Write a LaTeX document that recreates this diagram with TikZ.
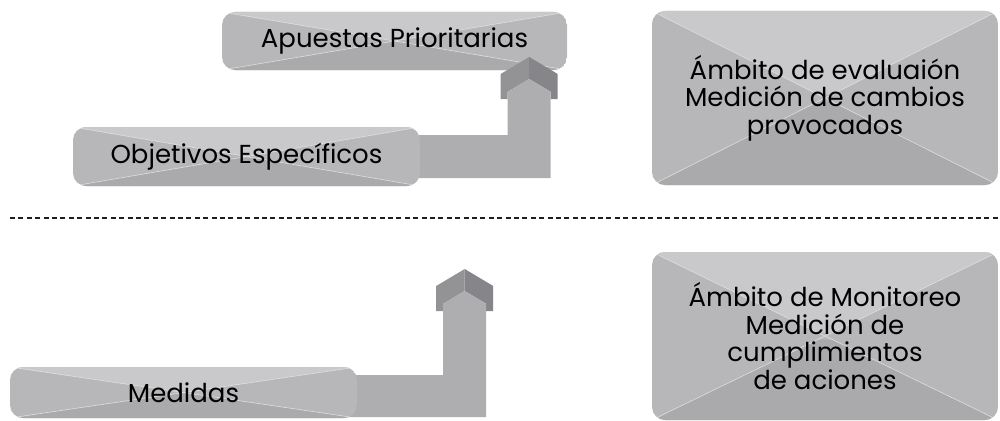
\documentclass[tikz,border=0pt]{standalone}
\usepackage{fontspec}
\setmainfont{Poppins}
\usetikzlibrary{calc}
\definecolor{ctop}{HTML}{C9C9CB}
\definecolor{cside}{HTML}{B7B7B9}
\definecolor{cbot}{HTML}{AAAAAC}
\definecolor{cshaft}{HTML}{AEAEB0}
\definecolor{cheadl}{HTML}{939396}
\definecolor{cheadr}{HTML}{86868A}
\definecolor{cdash}{HTML}{1E1E1E}
\pgfdeclarelayer{bg}
\pgfsetlayers{bg,main}
\tikzset{
  envbox/.style={rectangle, rounded corners=13pt, inner sep=0pt, align=center,
    font=\fontsize{26}{27.5}\selectfont, text=black,
    path picture={
      \fill[cside] (path picture bounding box.south west) rectangle (path picture bounding box.north east);
      \fill[ctop] (path picture bounding box.north west) -- (path picture bounding box.north east) -- (path picture bounding box.center) -- cycle;
      \fill[cbot] (path picture bounding box.south west) -- (path picture bounding box.south east) -- (path picture bounding box.center) -- cycle;
      \draw[white!55!cside, line width=0.6pt] (path picture bounding box.north west) -- (path picture bounding box.south east)
        (path picture bounding box.north east) -- (path picture bounding box.south west);
    }},
  pics/headthreed/.style={code={
    \fill[cheadl] (-28.5,17) -- (0,0) -- (0,22) -- (-21.5,34.8) -- (-21.5,42) -- (-28.5,42) -- cycle;
    \fill[cheadr] (28.5,17) -- (0,0) -- (0,22) -- (21.5,34.8) -- (21.5,42) -- (28.5,42) -- cycle;
  }},
  divider/.style={draw=cdash, line width=2.6pt, dash pattern=on 5pt off 3.4pt},
}
\begin{document}
\begin{tikzpicture}[x=1pt, y=-1pt]
\useasboundingbox (0,0) rectangle (1000,420);
% boxes on main layer
\node[envbox, minimum width=347pt, minimum height=59pt] (obj) at (246.5,156.5) {Objetivos Específicos};
\node[envbox, minimum width=347pt, minimum height=51pt] (med) at (183.5,392.5) {Medidas};
\node[envbox, minimum width=346pt, minimum height=174pt] (eva) at (825,98)
  {Ámbito de evaluaión\\Medición de cambios\\provocados};
\node[envbox, minimum width=346pt, minimum height=168pt] (mon) at (825,336)
  {Ámbito de Monitoreo\\Medición de\\cumplimientos\\de aciones};
% dashed divider
\coordinate (dl) at (10,218);
\coordinate (dr) at (1000,218);
\draw[divider] (dl) -- (dr);
\begin{pgfonlayer}{bg}
\node[envbox, minimum width=345pt, minimum height=58pt] (apu) at (394.5,41) {Apuestas Prioritarias};
% top elbow arrow: Objetivos -> Apuestas
\coordinate (t1) at ($(apu.east)+(-38,16)$);
\coordinate (t2) at ($(obj.east)+(-12,0)$);
\pic at (t1) {headthreed};
\fill[cshaft] ($(t2)+(0,-21.5)$) -- ($(t1 |- t2)+(-21.5,-21.5)$) -- ($(t1)+(-21.5,34.8)$) -- ($(t1)+(0,22)$)
  -- ($(t1)+(21.5,34.8)$) -- ($(t1 |- t2)+(21.5,21.5)$) -- ($(t2)+(0,21.5)$) -- cycle;
% bottom elbow arrow: from Medidas upward
\coordinate (b1) at ($(med.east)+(107.5,-123.5)$);
\coordinate (b2) at ($(med.east)+(-12,3.5)$);
\pic at (b1) {headthreed};
\fill[cshaft] ($(b2)+(0,-21)$) -- ($(b1 |- b2)+(-21.5,-21)$) -- ($(b1)+(-21.5,34.8)$) -- ($(b1)+(0,22)$)
  -- ($(b1)+(21.5,34.8)$) -- ($(b1 |- b2)+(21.5,21)$) -- ($(b2)+(0,21)$) -- cycle;
\end{pgfonlayer}
\end{tikzpicture}
\end{document}
